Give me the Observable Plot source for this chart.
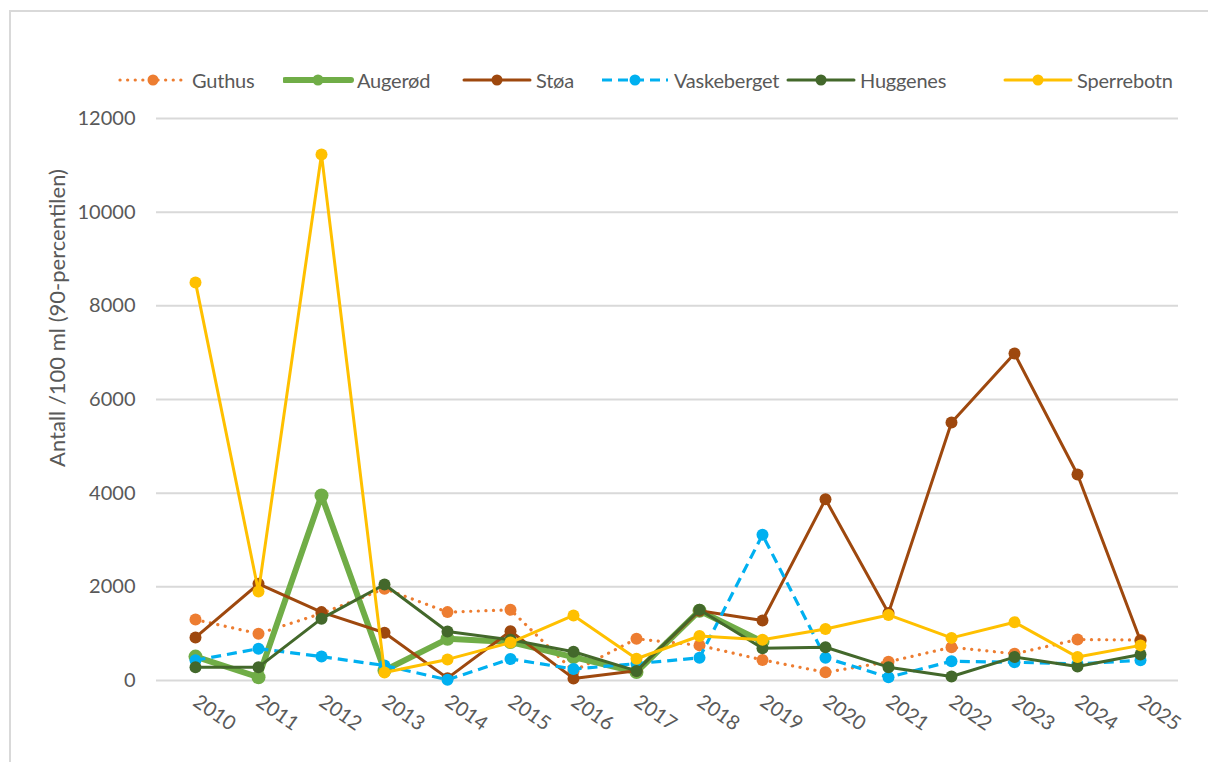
<!DOCTYPE html>
<html>
<head>
<meta charset="utf-8">
<script src="https://cdn.jsdelivr.net/npm/d3@7"></script>
<script src="https://cdn.jsdelivr.net/npm/@observablehq/plot@0.6"></script>
<style>
  html, body { margin: 0; padding: 0; background: #fff; }
  #wrap { position: relative; width: 1208px; height: 762px; overflow: hidden; font-family: Lato, "Open Sans", sans-serif; }
  #frame { position: absolute; left: 9px; top: 10px; width: 1300px; height: 900px; border-left: 2px solid #d9d9d9; border-top: 2px solid #d9d9d9; }
  #legend { position: absolute; left: 0; top: 68px; width: 1208px; height: 24px; font-size: 20px; letter-spacing: -0.2px; color: #595959; white-space: nowrap; }
  .item { position: absolute; top: 0; height: 24px; display: flex; align-items: center; }
  .item svg { display: block; margin-right: 3px; }
  #ylabel { position: absolute; left: 56px; top: 318px; transform: translate(-50%, -50%) rotate(-90deg); font-size: 22px; color: #595959; white-space: nowrap; }
  #chart { position: absolute; left: 0; top: 100px; }
</style>
</head>
<body>
<div id="wrap">
  <div id="frame"></div>
  <div id="legend"></div>
  <div id="ylabel">Antall /100 ml (90-percentilen)</div>
  <div id="chart"></div>
</div>
<script>
// ---- data ----
const years = ["2010","2011","2012","2013","2014","2015","2016","2017","2018","2019","2020","2021","2022","2023","2024","2025"];
const yTicks = [0, 2000, 4000, 6000, 8000, 10000, 12000];
const seriesNames = ["Guthus", "Augerød", "Støa", "Vaskeberget", "Huggenes", "Sperrebotn"];
const guthus      = [1300, 1000, 1430, 1960, 1460, 1510, 200, 890, 750, 440, 175, 400, 710, 570, 875, 865];
const augerod     = [510, 70, 3950, 215, 890, 820, 500, 180, 1490, 830];
const stoa        = [920, 2065, 1460, 1020, 50, 1050, 45, 210, 1490, 1280, 3870, 1440, 5510, 6980, 4400, 850];
const vaskeberget = [430, 680, 510, 320, 15, 460, 245, 360, 485, 3110, 485, 70, 410, 390, 355, 430];
const huggenes    = [285, 285, 1320, 2050, 1045, 870, 615, 205, 1510, 690, 710, 285, 85, 500, 300, 555];
const sperrebotn  = [8500, 1900, 11230, 170, 450, 810, 1390, 465, 950, 870, 1100, 1400, 910, 1245, 500, 750];

// ---- styles ----
const styles = [
  {color: "#ED7D31", width: 3.2, dash: "0.1 7.5", cap: "round", r: 6},
  {color: "#70AD47", width: 6,   dash: null,      cap: "round", r: 7},
  {color: "#9E480E", width: 3,   dash: null,      cap: "round", r: 6},
  {color: "#00B0F0", width: 3.2, dash: "10 6",    cap: "butt",  r: 6},
  {color: "#43682B", width: 3,   dash: null,      cap: "round", r: 6},
  {color: "#FFC000", width: 3,   dash: null,      cap: "round", r: 6}
];
const legendLeft = [118, 283, 462, 600, 786, 1003];
const valueLists = [guthus, augerod, stoa, vaskeberget, huggenes, sperrebotn];

const series = seriesNames.map((name, i) => ({
  name,
  ...styles[i],
  data: valueLists[i].map((v, j) => ({year: years[j], value: v}))
}));

// ---- legend ----
const legend = document.getElementById("legend");
series.forEach((s, i) => {
  const item = document.createElement("div");
  item.className = "item";
  item.style.left = legendLeft[i] + "px";
  const svgNS = "http://www.w3.org/2000/svg";
  const sv = document.createElementNS(svgNS, "svg");
  sv.setAttribute("width", 71); sv.setAttribute("height", 20);
  const ln = document.createElementNS(svgNS, "line");
  ln.setAttribute("x1", 2); ln.setAttribute("x2", 68); ln.setAttribute("y1", 10); ln.setAttribute("y2", 10);
  ln.setAttribute("stroke", s.color); ln.setAttribute("stroke-width", s.width);
  ln.setAttribute("stroke-linecap", s.cap);
  if (s.dash) ln.setAttribute("stroke-dasharray", s.dash);
  const c = document.createElementNS(svgNS, "circle");
  c.setAttribute("cx", 35); c.setAttribute("cy", 10); c.setAttribute("r", 5.5); c.setAttribute("fill", s.color);
  sv.appendChild(ln); sv.appendChild(c);
  const t = document.createElement("span");
  t.textContent = s.name;
  item.appendChild(sv); item.appendChild(t);
  legend.appendChild(item);
});

// ---- chart ----
const marks = [
  Plot.gridY(yTicks, {stroke: "#d9d9d9", strokeOpacity: 1, strokeWidth: 2}),
  Plot.axisY({ticks: yTicks, tickSize: 0, tickPadding: 21, tickFormat: d => String(d), fontSize: 20, fill: "#595959", label: null}),
  Plot.axisX({tickSize: 0, tickRotate: 35, tickPadding: 19, fontSize: 20, fill: "#595959", label: null})
];
series.forEach(s => {
  marks.push(Plot.line(s.data, {x: "year", y: "value", stroke: s.color, strokeWidth: s.width, strokeDasharray: s.dash, strokeLinecap: s.cap, strokeLinejoin: "round"}));
  marks.push(Plot.dot(s.data, {x: "year", y: "value", fill: s.color, r: s.r}));
});

const chart = Plot.plot({
  width: 1208,
  height: 662,
  marginTop: 18,
  marginBottom: 82,
  marginLeft: 156,
  marginRight: 30,
  style: {fontFamily: "Lato, 'Open Sans', sans-serif", background: "transparent", overflow: "visible"},
  x: {type: "point", domain: years, padding: 0.5},
  y: {domain: [0, 12000]},
  marks
});
document.getElementById("chart").appendChild(chart);
</script>
</body>
</html>
